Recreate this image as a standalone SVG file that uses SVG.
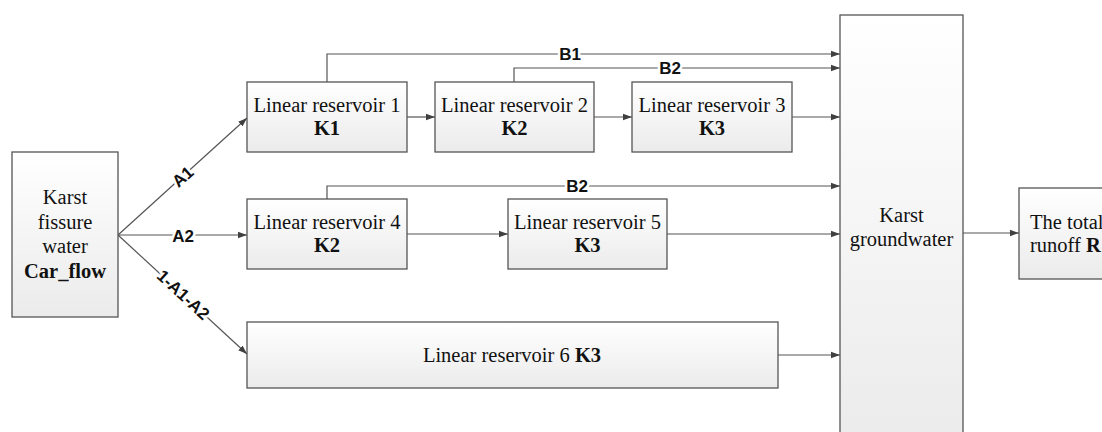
<svg xmlns="http://www.w3.org/2000/svg" width="1102" height="432" viewBox="0 0 1102 432">
  <defs>
    <linearGradient id="g" x1="0" y1="0" x2="0" y2="1">
      <stop offset="0" stop-color="#ffffff"/>
      <stop offset="1" stop-color="#ebebeb"/>
    </linearGradient>
    <marker id="ah" markerWidth="10" markerHeight="8" refX="9" refY="4" orient="auto" markerUnits="userSpaceOnUse">
      <path d="M0,0.8 L9,4 L0,7.2 Z" fill="#404040"/>
    </marker>
  </defs>
  <style>
    .box { fill: url(#g); stroke: #555555; stroke-width: 1.3; }
    .t { font-family: "Liberation Serif", "Times New Roman", serif; font-size: 20.5px; fill: #111; text-anchor: middle; }
    .b { font-weight: bold; }
    .c { fill: none; stroke: #555555; stroke-width: 1.2; }
    .lbl { font-family: "Liberation Sans", Arial, sans-serif; font-size: 17px; font-weight: bold; fill: #111; text-anchor: middle; dominant-baseline: central; stroke: #ffffff; stroke-width: 5; paint-order: stroke; stroke-linejoin: round; }
  </style>
  <rect width="1102" height="432" fill="#ffffff"/>

  <g id="connectors">
    <path class="c" d="M118,235 L247,118" marker-end="url(#ah)"/>
    <path class="c" d="M118,235 L247,235" marker-end="url(#ah)"/>
    <path class="c" d="M118,235 L247,354" marker-end="url(#ah)"/>
    <path class="c" d="M327,82 V54 H840" marker-end="url(#ah)"/>
    <path class="c" d="M514,82 V68 H840" marker-end="url(#ah)"/>
    <path class="c" d="M407,117 H435" marker-end="url(#ah)"/>
    <path class="c" d="M594,117 H632" marker-end="url(#ah)"/>
    <path class="c" d="M792,117 H840" marker-end="url(#ah)"/>
    <path class="c" d="M327,199 V186 H840" marker-end="url(#ah)"/>
    <path class="c" d="M407,234 H508" marker-end="url(#ah)"/>
    <path class="c" d="M667,234 H840" marker-end="url(#ah)"/>
    <path class="c" d="M778,355 H840" marker-end="url(#ah)"/>
    <path class="c" d="M963,233 H1019" marker-end="url(#ah)"/>
    <text class="lbl" x="183" y="177" transform="rotate(-42 183 177)">A1</text>
    <text class="lbl" x="183" y="236">A2</text>
    <text class="lbl" x="183" y="295" transform="rotate(42.7 183 295)">1-A1-A2</text>
    <text class="lbl" x="570" y="54">B1</text>
    <text class="lbl" x="670" y="68">B2</text>
    <text class="lbl" x="577" y="186">B2</text>
  </g>

  <g id="karst-fissure">
    <rect class="box" x="12" y="152" width="106" height="165"/>
    <text class="t" x="65" y="204">Karst</text>
    <text class="t" x="65" y="229">fissure</text>
    <text class="t" x="65" y="253">water</text>
    <text class="t b" x="65" y="278">Car_flow</text>
  </g>

  <g id="res1">
    <rect class="box" x="247" y="82" width="160" height="70"/>
    <text class="t" x="327" y="112">Linear reservoir 1</text>
    <text class="t b" x="327" y="135">K1</text>
  </g>
  <g id="res2">
    <rect class="box" x="435" y="82" width="159" height="70"/>
    <text class="t" x="514.5" y="112">Linear reservoir 2</text>
    <text class="t b" x="514.5" y="135">K2</text>
  </g>
  <g id="res3">
    <rect class="box" x="632" y="82" width="160" height="70"/>
    <text class="t" x="712" y="112">Linear reservoir 3</text>
    <text class="t b" x="712" y="135">K3</text>
  </g>
  <g id="res4">
    <rect class="box" x="247" y="199" width="160" height="70"/>
    <text class="t" x="327" y="229">Linear reservoir 4</text>
    <text class="t b" x="327" y="252">K2</text>
  </g>
  <g id="res5">
    <rect class="box" x="508" y="199" width="159" height="70"/>
    <text class="t" x="587.5" y="229">Linear reservoir 5</text>
    <text class="t b" x="587.5" y="252">K3</text>
  </g>
  <g id="res6">
    <rect class="box" x="247" y="322" width="531" height="66"/>
    <text class="t" x="512" y="362">Linear reservoir 6 <tspan class="b">K3</tspan></text>
  </g>

  <g id="groundwater">
    <rect class="box" x="840" y="15" width="123" height="430"/>
    <text class="t" x="901.5" y="222">Karst</text>
    <text class="t" x="901.5" y="246">groundwater</text>
  </g>

  <g id="total-runoff">
    <rect class="box" x="1019" y="188" width="100" height="91"/>
    <text class="t" x="1030" y="229" style="text-anchor:start">The total</text>
    <text class="t" x="1030" y="252" style="text-anchor:start">runoff <tspan class="b">R</tspan></text>
  </g>
</svg>
